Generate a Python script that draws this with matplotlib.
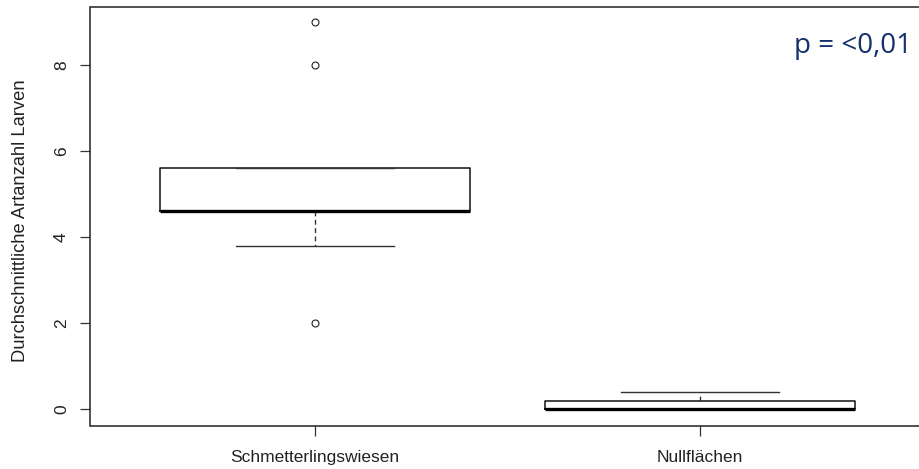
import matplotlib
matplotlib.use("Agg")
import matplotlib.pyplot as plt

categories = ["Schmetterlingswiesen", "Nullflächen"]
q1 = [4.6, 0.0]
median = [4.6, 0.0]
q3 = [5.6, 0.2]
whisker_low = [3.8, 0.0]
whisker_high = [5.6, 0.4]
outliers = [[2.0, 8.0, 9.0], []]
y_ticks = [0, 2, 4, 6, 8]
p_text = "p = <0,01"

plt.rcParams['font.family'] = ['Liberation Sans', 'DejaVu Sans']

fig = plt.figure(figsize=(9.2, 4.69), dpi=100)
W, H = 920, 469
ax = fig.add_axes([90.5 / W, (H - 425.5) / H, 1.0 - 90.5 / W, (425.5 - 7) / H])

stats = []
for i, name in enumerate(categories):
    stats.append(dict(label=name, med=median[i], q1=q1[i], q3=q3[i],
                      whislo=whisker_low[i], whishi=whisker_high[i],
                      fliers=outliers[i]))

positions = list(range(1, len(categories) + 1))
ax.bxp(stats, positions=positions, widths=0.805, capwidths=0.41,
       boxprops=dict(color='#111111', linewidth=1.1),
       medianprops=dict(color='#000000', linewidth=2.4, solid_capstyle='butt'),
       whiskerprops=dict(color='#333333', linewidth=1.0, linestyle=(0, (3.5, 2.5))),
       capprops=dict(color='#333333', linewidth=1.0),
       flierprops=dict(marker='o', markersize=5, markerfacecolor='white',
                       markeredgecolor='#222222', markeredgewidth=0.8))

ax.set_xlim(0.417, 2.571)
ax.set_ylim(-0.38, 9.35)
ax.set_yticks(y_ticks)
ax.set_yticklabels([str(t) for t in y_ticks], rotation=90, va='center')
ax.set_xticks(positions)
ax.set_xticklabels(categories)
ax.tick_params(axis='both', colors='#333333', labelcolor='#222222', labelsize=12.5,
               length=7.5, width=0.9, direction='out')
ax.tick_params(axis='x', pad=10)
ax.tick_params(axis='y', pad=8)
ax.spines['right'].set_visible(False)
for s in ['left', 'top', 'bottom']:
    ax.spines[s].set_color('#222222')
    ax.spines[s].set_linewidth(1.1)

ax.set_ylabel("Durchschnittliche Artanzahl Larven", fontsize=13.2, color='#222222')
ax.yaxis.set_label_coords(-(90.5 - 29) / (920 - 90.5), 0.49)

fig.text(912 / W, (H - 53) / H, p_text, fontsize=20, color='#14306e',
         family=['Open Sans', 'DejaVu Sans'], ha='right', va='baseline')

fig.savefig("out.png", dpi=100, facecolor='white')
